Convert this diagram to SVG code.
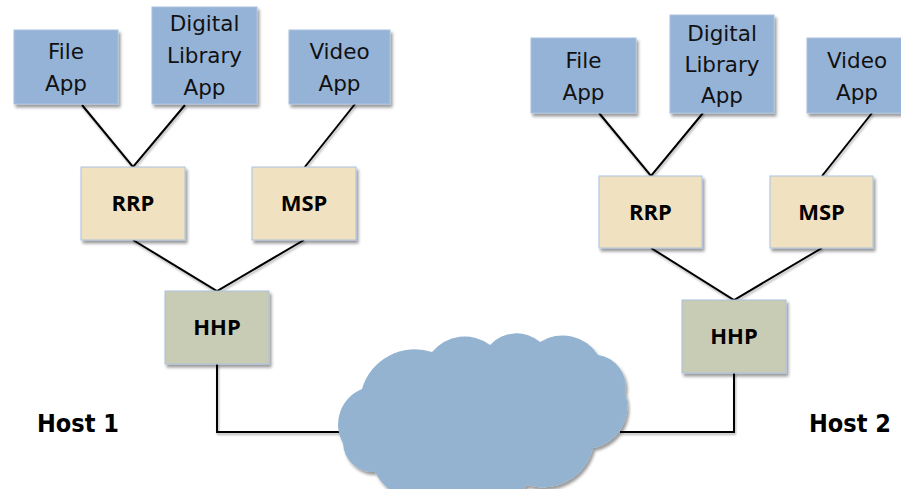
<svg xmlns="http://www.w3.org/2000/svg" width="901" height="489" viewBox="0 0 901 489">
<style>
.app{fill:#95B3D7;stroke:#A9C2DE;stroke-width:1;filter:url(#sh)}
.rp{fill:#F0E1C0;stroke:#A9C2DE;stroke-width:1;filter:url(#sh)}
.hh{fill:#C9CCB4;stroke:#A9C2DE;stroke-width:1;filter:url(#sh)}
.t{font-family:"DejaVu Sans",sans-serif;font-size:21.5px;fill:#111;text-anchor:middle}
.b{font-family:"Open Sans","DejaVu Sans",sans-serif;font-size:22px;font-weight:bold;fill:#000;text-anchor:middle}
.h{font-family:"DejaVu Sans Condensed","DejaVu Sans",sans-serif;font-size:25px;font-weight:bold;fill:#000}
.c{fill:none;stroke:#000;stroke-width:2;filter:url(#lsh)}
</style>
<defs>
<filter id="sh" x="-10%" y="-10%" width="130%" height="130%">
<feDropShadow dx="2" dy="3" stdDeviation="1.5" flood-color="#000" flood-opacity="0.4"/>
</filter>
<filter id="lsh" x="-10%" y="-10%" width="120%" height="130%">
<feDropShadow dx="1" dy="2" stdDeviation="1" flood-color="#000" flood-opacity="0.3"/>
</filter>
</defs>
<g id="connectors">
<path class="c" d="M82,105 L133,167 L185,105"/>
<path class="c" d="M355,104 L304,168"/>
<path class="c" d="M133,240 L217,291 L304,240"/>
<path class="c" d="M217,364 L217,432 L350,432"/>
<path class="c" d="M599,113 L651,176 L703,113"/>
<path class="c" d="M872,113 L822,176"/>
<path class="c" d="M651,248 L734,300 L822,248"/>
<path class="c" d="M734,373 L734,432 L620,432"/>
</g>
<g id="cloud">
<path fill="#93B3D1" filter="url(#sh)" d="M343,443 A38,38 0 0 1 362,389 A55,55 0 0 1 432,352 A42,42 0 0 1 490,345 A36,36 0 0 1 540,342 A42,42 0 0 1 598,355 A32,32 0 0 1 625,393 A42,42 0 0 1 593,448 A52,52 0 0 1 527,485 A55,55 0 0 1 450,495 A55,55 0 0 1 375,472 A30,30 0 0 1 343,443 Z"/>
</g>
<g id="h1-file"><rect class="app" x="14" y="30" width="104" height="74"/><text class="t" x="66" y="59">File</text><text class="t" x="66" y="91">App</text></g>
<g id="h1-dl"><rect class="app" x="152" y="7" width="105" height="97"/><text class="t" x="204.5" y="31">Digital</text><text class="t" x="204.5" y="63">Library</text><text class="t" x="204.5" y="95">App</text></g>
<g id="h1-video"><rect class="app" x="289" y="30" width="101" height="74"/><text class="t" x="339.5" y="59">Video</text><text class="t" x="339.5" y="91">App</text></g>
<g id="h1-rrp"><rect class="rp" x="81" y="167" width="104" height="73"/><text class="b" x="133" y="211">RRP</text></g>
<g id="h1-msp"><rect class="rp" x="252" y="167" width="104" height="73"/><text class="b" x="304" y="211">MSP</text></g>
<g id="h1-hhp"><rect class="hh" x="165" y="291" width="104" height="73"/><text class="b" x="217" y="335">HHP</text></g>
<g id="h2-file"><rect class="app" x="531" y="38" width="105" height="75"/><text class="t" x="583.5" y="68">File</text><text class="t" x="583.5" y="100">App</text></g>
<g id="h2-dl"><rect class="app" x="670" y="15" width="104" height="98"/><text class="t" x="722" y="41">Digital</text><text class="t" x="722" y="72">Library</text><text class="t" x="722" y="103">App</text></g>
<g id="h2-video"><rect class="app" x="807" y="38" width="103" height="75"/><text class="t" x="857" y="68">Video</text><text class="t" x="857" y="100">App</text></g>
<g id="h2-rrp"><rect class="rp" x="599" y="176" width="103" height="72"/><text class="b" x="650.5" y="220">RRP</text></g>
<g id="h2-msp"><rect class="rp" x="770" y="176" width="103" height="72"/><text class="b" x="821.5" y="220">MSP</text></g>
<g id="h2-hhp"><rect class="hh" x="682" y="300" width="104" height="73"/><text class="b" x="734" y="344">HHP</text></g>
<g id="label-host1"><text class="h" x="37" y="432">Host 1</text></g>
<g id="label-host2"><text class="h" x="809" y="432">Host 2</text></g>
</svg>
